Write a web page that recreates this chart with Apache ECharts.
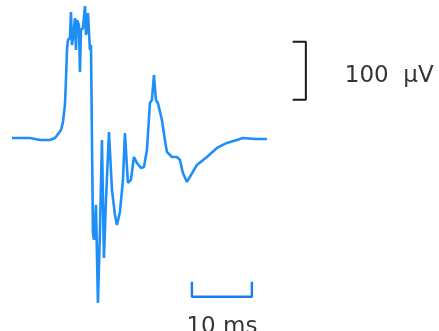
<!DOCTYPE html>
<html>
<head>
<meta charset="utf-8">
<script src="https://cdn.jsdelivr.net/npm/echarts@6/dist/echarts.min.js"></script>
<style>
  html, body { margin: 0; padding: 0; background: #fff; }
  #main { width: 439px; height: 331px; }
</style>
</head>
<body>
<div id="main"></div>
<script>
// evoked potential trace, time in ms, amplitude in microvolts
var timeMs = [2.0, 5.0, 6.67, 8.33, 9.17, 9.67, 10.17, 10.5, 10.83, 11.0, 11.17, 11.33, 11.67, 11.83, 12.0,
    12.17, 12.5, 12.67, 12.83, 13.17, 13.33, 13.5, 13.83, 14.17, 14.33, 14.5, 14.67, 15.0, 15.17, 15.5,
    15.67, 16.0, 16.33, 16.67, 17.0, 17.33, 17.67, 18.17, 18.67, 19.17, 19.5, 20.0, 20.5, 20.83, 21.33,
    21.83, 22.33, 22.83, 23.5, 24.0, 24.5, 25.0, 25.33, 25.67, 26.0, 26.33, 27.0, 27.5, 27.83, 28.67,
    29.5, 30.0, 30.5, 31.17, 31.5, 32.83, 34.5, 36.17, 37.83, 39.5, 40.5, 42.5, 44.5];
var voltUv = [0, 0, -3.4, -3.4, 0, 6.9, 13.8, 27.6, 56.9, 100, 151.7, 169, 172.4, 217.2, 160.3,
    172.4, 206.9, 151.7, 203.4, 194.8, 113.8, 186.2, 189.7, 227.6, 177.6, 186.2, 215.5, 151.7, 160.3, -163.8,
    -175.9, -115.5, -284.5, -158.6, -3.4, -206.9, -106.9, 10.3, -89.7, -132.8, -150, -127.6, -72.4, 8.6, -77.6,
    -72.4, -32.8, -43.1, -51.7, -50, -20.7, 60.3, 65.5, 108.6, 65.5, 60.3, 31.0, -3.4, -24.1, -32.8,
    -32.8, -37.9, -60.3, -75.9, -77.6, -46.6, -32.8, -17.2, -8.6, -3.4, 0, -1.7, -1.7];

// scale bars
var uvBarT = [48.8, 51.0, 51.0, 48.8];
var uvBarV = [166, 166, 66, 66];
var msBarT = [32, 32, 42, 42];
var msBarV = [-248, -274, -274, -248];

var labelText = ['100  \u00b5V', '10 ms'];
var labelT = [57.5, 37.0];
var labelV = [107, -326];

function zip(a, b) {
    var out = [];
    for (var i = 0; i < a.length; i++) out.push([a[i], b[i]]);
    return out;
}

var myChart = echarts.init(document.getElementById('main'));

option = {
    animation: false,
    grid: { left: 0, right: 0, top: 0, bottom: 0 },
    xAxis: { type: 'value', min: 0, max: 73.2, show: false },
    yAxis: { type: 'value', min: -333, max: 238, show: false },
    series: [{
        name: 'trace',
        type: 'line',
        data: zip(timeMs, voltUv),
        showSymbol: false,
        lineStyle: { color: '#1e8ff8', width: 2.6 }
    }, {
        name: 'uvBar',
        type: 'line',
        data: zip(uvBarT, uvBarV),
        showSymbol: false,
        lineStyle: { color: '#1a1a1a', width: 2 }
    }, {
        name: 'msBar',
        type: 'line',
        data: zip(msBarT, msBarV),
        showSymbol: false,
        lineStyle: { color: '#1a7cf0', width: 2.4 }
    }, {
        name: 'labels',
        type: 'scatter',
        symbolSize: 0,
        data: [
            { value: [labelT[0], labelV[0]], label: { align: 'left', formatter: labelText[0] } },
            { value: [labelT[1], labelV[1]], label: { align: 'center', formatter: labelText[1] } }
        ],
        label: {
            show: true,
            position: [0, 0],
            verticalAlign: 'middle',
            color: '#000',
            fontFamily: 'DejaVu Sans',
            fontSize: 23
        }
    }]
};
myChart.setOption(option);
</script>
</body>
</html>
